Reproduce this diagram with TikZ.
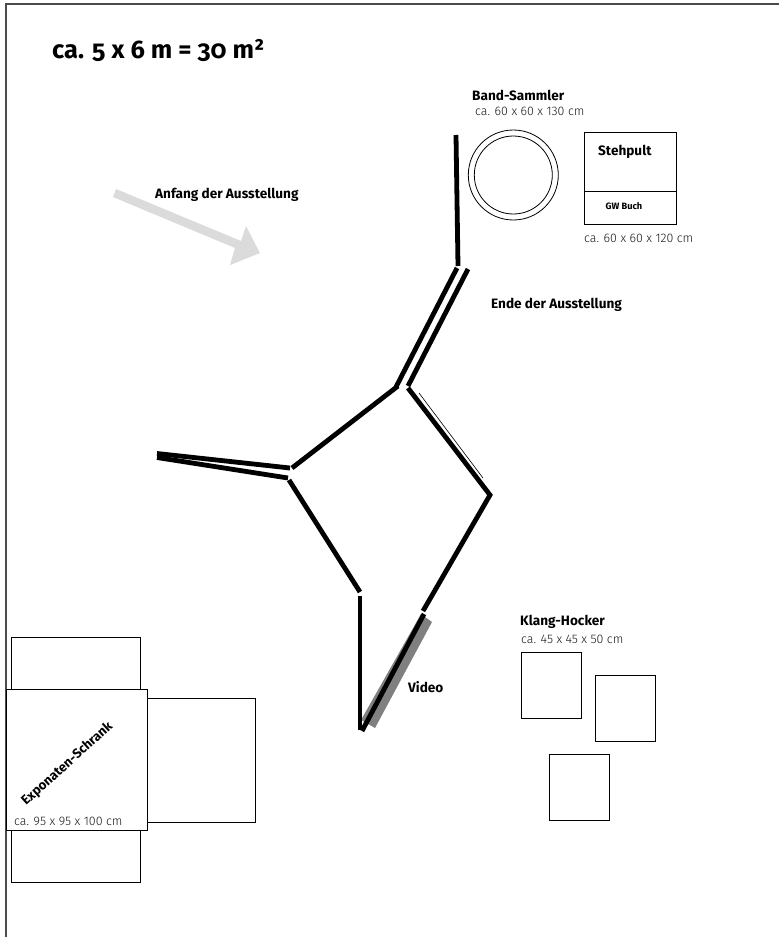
\documentclass[tikz,border=0pt]{standalone}
\usepackage{fontspec}
\setmainfont{Fira Sans}[Numbers=OldStyle]
\newfontfamily\lining{Fira Sans Light}[Numbers=Lining]
\begin{document}
\begin{tikzpicture}[x=1pt,y=-1pt,
  wall/.style={line width=4.8pt,black},
  thinwall/.style={line width=0.6pt,black},
  box/.style={draw=black,line width=1pt,fill=white},
  frameline/.style={draw=black!70,line width=1.3pt},
  lab/.style={inner sep=0pt,anchor=base west,font=\fontsize{13.6}{15}\selectfont\bfseries},
  dim/.style={inner sep=0pt,anchor=base west,text=black!90,font=\fontsize{12.4}{14}\selectfont\lining},
  small/.style={inner sep=0pt,anchor=base west,font=\fontsize{9.2}{11}\selectfont\bfseries},
  title/.style={inner sep=0pt,anchor=base west,font=\fontsize{25.4}{30}\selectfont\bfseries}]
\useasboundingbox (0,0) rectangle (779,937);
\fill[white] (0,0) rectangle (779,937);
\coordinate (fa) at (6,937); \coordinate (fb) at (6,4); \coordinate (fc) at (779,4);
\draw[frameline] (fa) -- (fb) -- (fc);
% arrow
\fill[black!14] (116,189) -- (241,241) -- (246,226) -- (260,253) -- (230,265) -- (235,248) -- (113,197) -- cycle;
\node[lab] (t0) at (155,198) {Anfang der Ausstellung};
\node[title] (t1) at (52,58.5) {ca. 5 x 6 m = 30 m²};
% walls
\coordinate (w1) at (456,135); \coordinate (w2) at (458,266);
\coordinate (w3) at (457,268); \coordinate (w4) at (396,387);
\coordinate (w5) at (468,269); \coordinate (w6) at (408,386);
\coordinate (w7) at (398,386); \coordinate (w8) at (292,468);
\coordinate (w9) at (408,388); \coordinate (w10) at (490,495);
\coordinate (w11) at (423,611);
\coordinate (w12) at (157,453.5); \coordinate (w13) at (290,468);
\coordinate (w14) at (157,457.5); \coordinate (w15) at (288,478);
\coordinate (w16) at (289,480); \coordinate (w17) at (360,592);
\coordinate (w18) at (360,596); \coordinate (w19) at (360,730);
\coordinate (w20) at (424,614); \coordinate (w21) at (362,731);
\coordinate (w22) at (419,393); \coordinate (w23) at (483,478);
\fill[black!50] (421,614) -- (432,622) -- (375,728) -- (361,720) -- cycle;
\draw[wall] (w1) -- (w2);
\draw[wall] (w3) -- (w4);
\draw[wall] (w5) -- (w6);
\draw[wall] (w7) -- (w8);
\draw[wall] (w9) -- (w10) -- (w11);
\draw[wall] (w12) -- (w13);
\draw[wall] (w14) -- (w15);
\draw[wall] (w16) -- (w17);
\draw[wall] (w18) -- (w19);
\draw[wall] (w20) -- (w21);
\draw[thinwall] (w22) -- (w23);
% Band-Sammler
\node[lab] (t2) at (472,100.5) {Band-Sammler};
\node[dim] (t3) at (475,115.5) {ca. 60 x 60 x 130 cm};
\draw[line width=0.8pt] (513.3,175) circle (45);
\draw[line width=0.8pt] (513.3,175) circle (39);
% Stehpult
\draw[box] (584.3,132.7) rectangle (676.3,224.3);
\draw[line width=0.8pt] (584.3,191.7) -- (676.3,191.7);
\node[lab] (t4) at (598,155.5) {Stehpult};
\node[small] (t5) at (605.5,209) {GW Buch};
\node[dim] (t6) at (584,242) {ca. 60 x 60 x 120 cm};
\node[lab] (t7) at (491,308) {Ende der Ausstellung};
\node[lab] (t8) at (408,692.5) {Video};
% Klang-Hocker
\node[lab] (t9) at (520,625.5) {Klang-Hocker};
\node[dim] (t10) at (521,643.5) {ca. 45 x 45 x 50 cm};
\draw[box] (521,652) rectangle (581,718);
\draw[box] (595,675) rectangle (655,741);
\draw[box] (549,754) rectangle (609,820);
% Exponaten
\draw[box] (11.7,637.3) rectangle (140.3,689);
\draw[box] (11.7,830) rectangle (140.3,882.3);
\draw[box] (147.7,698.7) rectangle (255.7,822.3);
\draw[box] (6.3,689.3) rectangle (147.3,830);
\node[lab,rotate=42,font=\fontsize{13.2}{15}\selectfont\bfseries] (t11) at (26,806) {Exponaten-Schrank};
\node[dim] (t12) at (14,825) {ca. 95 x 95 x 100 cm};
\end{tikzpicture}
\end{document}
